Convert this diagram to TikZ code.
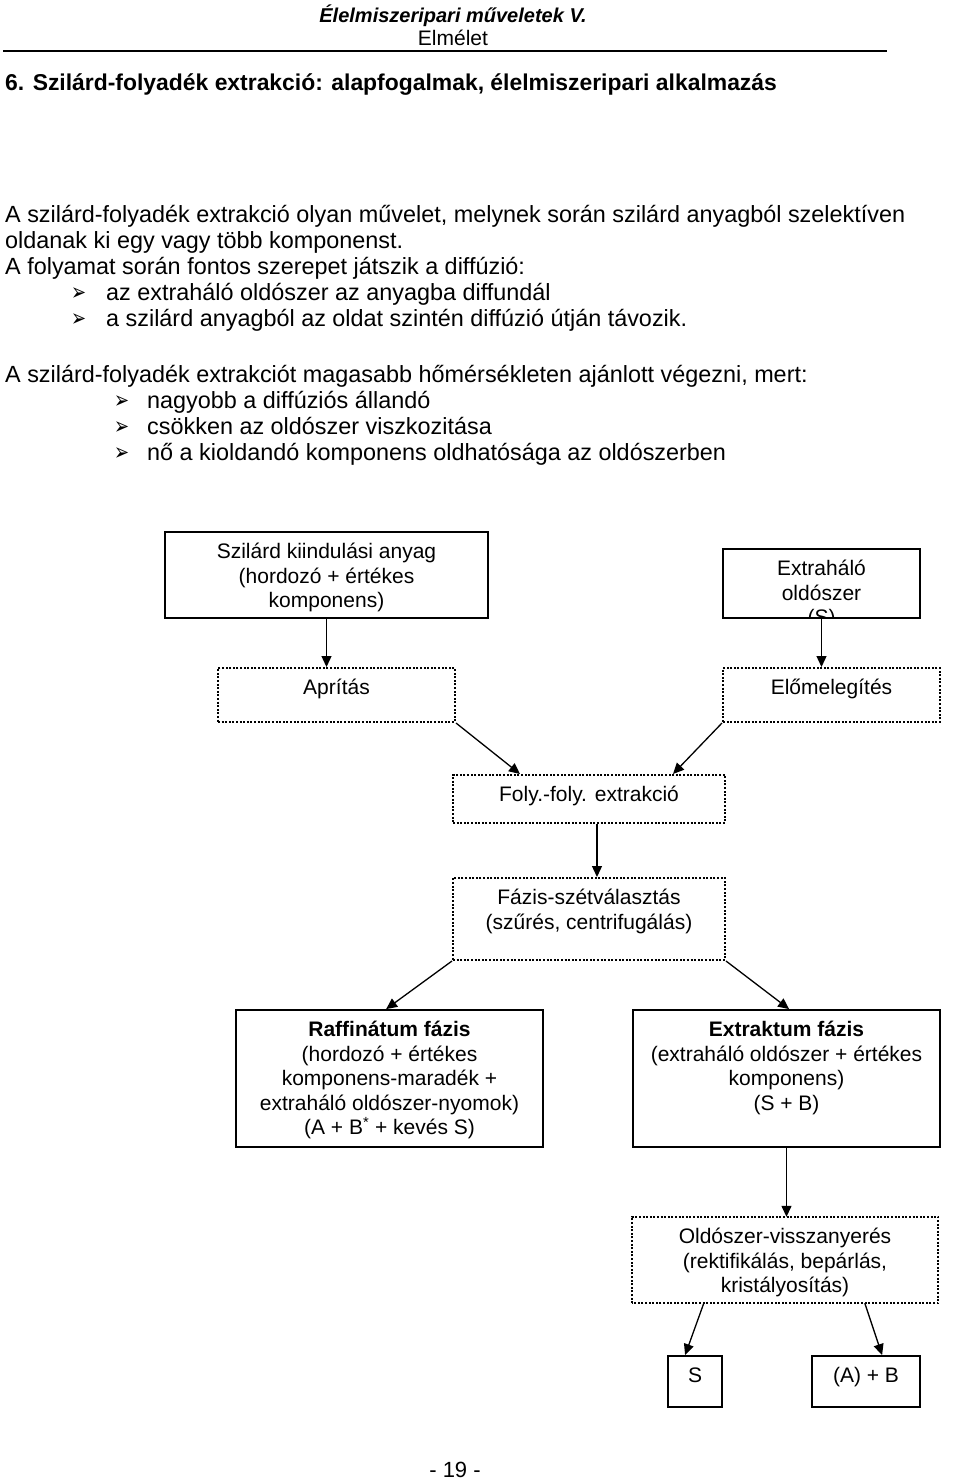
\documentclass[tikz,border=0pt]{standalone}
\usepackage{fontspec}
\usepackage{graphicx}
\setmainfont{Liberation Sans}
\newfontfamily\symfont{DejaVu Sans}
\usetikzlibrary{arrows.meta}

\newcommand{\boxtxt}[3]{\parbox[c][#2pt][t]{#1pt}{\centering\vspace*{9.8pt}\strut #3}}
\newcommand{\nyil}{\scalebox{0.75}[1]{➢}}

\begin{document}
\begin{tikzpicture}[x=1pt, y=-1pt, font=\fontsize{23.4pt}{26pt}\selectfont,
  line/.style={anchor=base west, inner sep=0pt},
  bul/.style={anchor=base west, inner sep=0pt, font=\symfont\fontsize{24pt}{26pt}\selectfont},
  boxfont/.style={font=\fontsize{21pt}{24.5pt}\selectfont},
  solidbox/.style={boxfont, draw, line width=1.8pt, inner sep=0pt},
  dotbox/.style={boxfont, draw, line width=2pt, dash pattern=on 2pt off 1.6pt, inner sep=0pt},
  arr/.style={-{Triangle[length=11pt,width=10pt]}, line width=1.3pt}]
  \useasboundingbox (0,0) rectangle (960,1481);

  \node (h1) at (453,22) [anchor=base, inner sep=0pt, font=\fontsize{20pt}{23pt}\selectfont] {\textbf{\textit{Élelmiszeripari műveletek V.}}};
  \node (h2) at (453,45) [anchor=base, inner sep=0pt, font=\fontsize{21pt}{23pt}\selectfont] {Elmélet};
  \draw[line width=1.5pt] (3,51) -- (887,51);
  \node (cim) at (5,90) [line, font=\fontsize{22.9pt}{26pt}\selectfont] {\textbf{6. Szilárd-folyadék extrakció: alapfogalmak, élelmiszeripari alkalmazás}};

  \node (t1) at (5,222) [line] {A szilárd-folyadék extrakció olyan művelet, melynek során szilárd anyagból szelektíven};
  \node (t2) at (5,248) [line] {oldanak ki egy vagy több komponenst.};
  \node (t3) at (5,274) [line] {A folyamat során fontos szerepet játszik a diffúzió:};
  \node (b1) at (71,300) [bul] {\nyil};
  \node (t4) at (106,300) [line] {az extraháló oldószer az anyagba diffundál};
  \node (b2) at (71,326) [bul] {\nyil};
  \node (t5) at (106,326) [line] {a szilárd anyagból az oldat szintén diffúzió útján távozik.};

  \node (t6) at (5,382) [line] {A szilárd-folyadék extrakciót magasabb hőmérsékleten ajánlott végezni, mert:};
  \node (b3) at (114,408) [bul] {\nyil};
  \node (t7) at (147,408) [line] {nagyobb a diffúziós állandó};
  \node (b4) at (114,434) [bul] {\nyil};
  \node (t8) at (147,434) [line] {csökken az oldószer viszkozitása};
  \node (b5) at (114,460) [bul] {\nyil};
  \node (t9) at (147,460) [line] {nő a kioldandó komponens oldhatósága az oldószerben};

  \node (szil) at (326.5,575) [solidbox] {\boxtxt{323}{86}{Szilárd kiindulási anyag\\(hordozó + értékes\\komponens)}};
  \begin{scope}
    \clip (724,550) rectangle (919,616);
    \node (extr) at (821.5,583.5) [boxfont, inner sep=0pt] {\boxtxt{197}{69}{Extraháló\\oldószer\\(S)}};
  \end{scope}
  \draw[line width=1.8pt] (extr.south west) rectangle (extr.north east);

  \node (apr) at (336.5,695) [dotbox] {\boxtxt{237}{54}{Aprítás}};
  \node (elo) at (831.5,695) [dotbox] {\boxtxt{217}{54}{Előmelegítés}};

  \draw[arr] (szil.south) -- (szil.south |- apr.north);
  \draw[arr] (extr.south) -- (extr.south |- elo.north);

  \node (foly) at (589,799) [dotbox] {\boxtxt{272}{48}{Foly.-foly. extrakció}};
  \node (fazis) at (589,919) [dotbox] {\boxtxt{272}{82}{Fázis-szétválasztás\\(szűrés, centrifugálás)}};

  \draw[arr] (apr.south east) -- ([xshift=68pt]foly.north west);
  \draw[arr] (elo.south west) -- ([xshift=-53pt]foly.north east);
  \draw[arr] ([xshift=8pt]foly.south) -- ([xshift=8pt]fazis.north);

  \node (raff) at (389.5,1078.5) [solidbox] {\boxtxt{307}{137}{\textbf{Raffinátum fázis}\\(hordozó + értékes\\komponens-maradék +\\extraháló oldószer-nyomok)\\(A + B\textsuperscript{*} + kevés S)}};
  \node (ektr) at (786.5,1078.5) [solidbox] {\boxtxt{307}{137}{\textbf{Extraktum fázis}\\(extraháló oldószer + értékes\\komponens)\\(S + B)}};

  \draw[arr] (fazis.south west) -- ([xshift=151pt]raff.north west);
  \draw[arr] (fazis.south east) -- ([xshift=157pt]ektr.north west);

  \begin{scope}
    \clip (634,1219) rectangle (937,1298.5);
    \node (olds) at (785,1260) [boxfont, inner sep=0pt] {\boxtxt{306}{86}{Oldószer-visszanyerés\\(rektifikálás, bepárlás,\\kristályosítás)}};
  \end{scope}
  \draw[line width=2pt, dash pattern=on 2pt off 1.6pt] (olds.south west) rectangle (olds.north east);
  \node (s) at (695,1381.5) [solidbox] {\boxtxt{54}{51}{S}};
  \node (ab) at (866,1381.5) [solidbox] {\boxtxt{108}{51}{(A) + B}};

  \draw[arr] (ektr.south) -- (ektr.south |- olds.north);
  \draw[arr] ([xshift=72pt]olds.south west) -- ([xshift=18pt]s.north west);
  \draw[arr] ([xshift=233pt]olds.south west) -- ([xshift=71pt]ab.north west);

  \node (old) at (455,1477) [anchor=base, inner sep=0pt, font=\fontsize{22pt}{24pt}\selectfont] {- 19 -};
\end{tikzpicture}
\end{document}
